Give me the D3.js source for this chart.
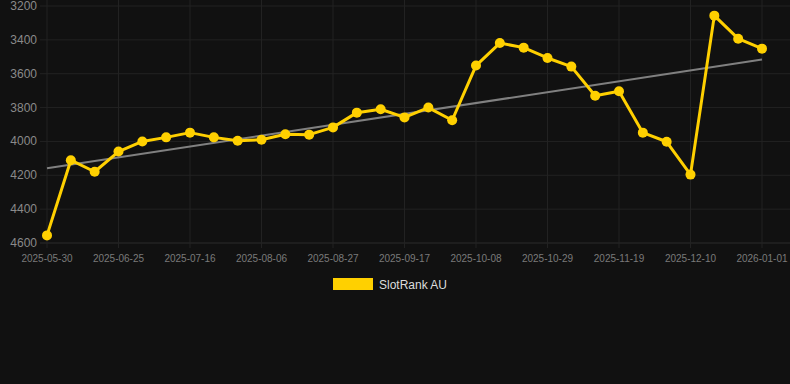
<!DOCTYPE html>
<html>
<head>
<meta charset="utf-8">
<script src="https://cdn.jsdelivr.net/npm/d3@7"></script>
<style>
  html, body { margin: 0; padding: 0; background: #111111; }
  body { width: 790px; height: 384px; overflow: hidden; font-family: Arial, "Liberation Sans", sans-serif; }
</style>
</head>
<body>
<div id="chart"></div>
<script>
const dates = [
    '2025-05-30', '2025-06-11', '2025-06-18', '2025-06-25', '2025-07-02', '2025-07-09',
    '2025-07-16', '2025-07-23', '2025-07-30', '2025-08-06', '2025-08-13', '2025-08-20',
    '2025-08-27', '2025-09-03', '2025-09-10', '2025-09-17', '2025-09-24', '2025-10-01',
    '2025-10-08', '2025-10-15', '2025-10-22', '2025-10-29', '2025-11-05', '2025-11-12',
    '2025-11-19', '2025-11-26', '2025-12-03', '2025-12-10', '2025-12-17', '2025-12-24',
    '2026-01-01'
];
const ranks = [
    4555, 4111, 4179, 4060, 4000, 3976, 3948, 3976, 3996, 3990, 3958, 3960,
    3917, 3830, 3810, 3858, 3800, 3875, 3552, 3419, 3446, 3507, 3558, 3730,
    3704, 3948, 4002, 4196, 3257, 3393, 3452
];
const yTicks = [3200, 3400, 3600, 3800, 4000, 4200, 4400, 4600];
const seriesName = 'SlotRank AU';

const width = 790;
const height = 384;
const margin = { top: 6, right: 0, bottom: 141, left: 40 };

const svg = d3.select('#chart')
    .append('svg')
    .attr('width', width)
    .attr('height', height);

const x = d3.scalePoint()
    .domain(dates)
    .range([47, 762]);

const y = d3.scaleLinear()
    .domain([3200, 4600])
    .range([margin.top, height - margin.bottom]);

const bottom = height - margin.bottom;

// grid
svg.append('g')
    .selectAll('line')
    .data(yTicks)
    .enter()
    .append('line')
    .attr('x1', margin.left)
    .attr('x2', width)
    .attr('y1', d => y(d))
    .attr('y2', d => y(d))
    .style('stroke', d => d === 4600 ? '#2c2c2c' : '#222222')
    .style('stroke-width', 1);

const tickDates = dates.filter((d, i) => i % 3 === 0);

svg.append('g')
    .selectAll('line')
    .data(tickDates)
    .enter()
    .append('line')
    .attr('x1', d => x(d))
    .attr('x2', d => x(d))
    .attr('y1', 0)
    .attr('y2', bottom + 5)
    .style('stroke', '#222222')
    .style('stroke-width', 1);

// axes labels
svg.append('g')
    .selectAll('text')
    .data(yTicks)
    .enter()
    .append('text')
    .attr('x', 37)
    .attr('y', d => y(d) + 4)
    .attr('text-anchor', 'end')
    .style('fill', '#8a8a8a')
    .style('font-size', '12px')
    .text(d => d);

svg.append('g')
    .selectAll('text')
    .data(tickDates)
    .enter()
    .append('text')
    .attr('x', d => x(d))
    .attr('y', bottom + 19)
    .attr('text-anchor', 'middle')
    .style('fill', '#7a7a7a')
    .style('font-size', '10px')
    .text(d => d);

// trend line (least squares on the series)
const n = ranks.length;
const mx = d3.mean(ranks, (d, i) => i);
const my = d3.mean(ranks);
const slope = d3.sum(ranks, (d, i) => (i - mx) * (d - my)) / d3.sum(ranks, (d, i) => (i - mx) * (i - mx));
const trend = [0, n - 1].map(i => ({ i, v: my + slope * (i - mx) }));

svg.append('path')
    .datum(trend)
    .attr('fill', 'none')
    .attr('stroke', '#808080')
    .attr('stroke-width', 2)
    .attr('d', d3.line().x(d => x(dates[d.i])).y(d => y(d.v)));

// series
const line = d3.line()
    .x((d, i) => x(dates[i]))
    .y(d => y(d));

svg.append('path')
    .datum(ranks)
    .attr('fill', 'none')
    .attr('stroke', '#ffd000')
    .attr('stroke-width', 3)
    .attr('stroke-linejoin', 'round')
    .attr('d', line);

svg.append('g')
    .selectAll('circle')
    .data(ranks)
    .enter()
    .append('circle')
    .attr('cx', (d, i) => x(dates[i]))
    .attr('cy', d => y(d))
    .attr('r', 5)
    .attr('fill', '#ffd000');

// legend
const legend = svg.append('g')
    .attr('transform', 'translate(333, 278)');

legend.append('rect')
    .attr('width', 40)
    .attr('height', 12)
    .attr('fill', '#ffd000');

legend.append('text')
    .attr('x', 46)
    .attr('y', 10.5)
    .style('fill', '#dddddd')
    .style('font-size', '12px')
    .text(seriesName);
</script>
</body>
</html>
